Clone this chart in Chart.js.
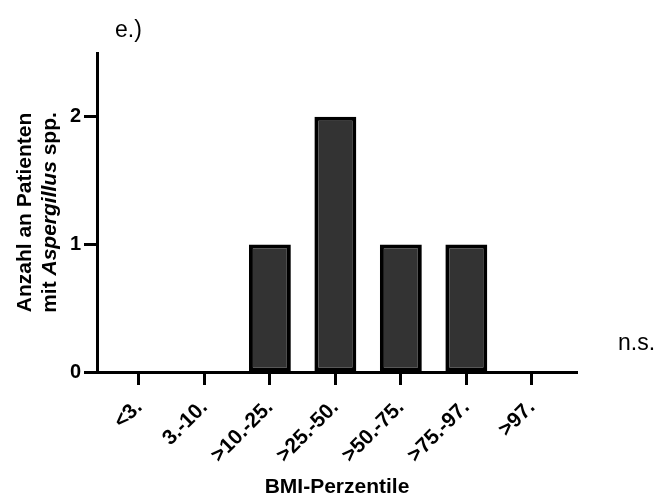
<!DOCTYPE html>
<html>
<head>
<meta charset="utf-8">
<script src="https://cdn.jsdelivr.net/npm/chart.js@4"></script>
<style>
  html, body { margin: 0; padding: 0; background: #fff; }
  #wrap { width: 658px; height: 500px; }
</style>
</head>
<body>
<div id="wrap"><canvas id="chart" width="658" height="500"></canvas></div>
<script>
  const categories = ['<3.', '3.-10.', '>10.-25.', '>25.-50.', '>50.-75.', '>75.-97.', '>97.'];
  const patients = [0, 0, 1, 2, 1, 1, 0];
  const yTicks = [0, 1, 2];

  const FONT = '"Liberation Sans", Arial, sans-serif';

  // y-Achsentitel mit kursivem Gattungsnamen, dazu Panelbuchstabe und n.s.
  const extraText = {
    id: 'extraText',
    afterDraw(chart) {
      const ctx = chart.ctx;
      const area = chart.chartArea;
      ctx.save();
      ctx.fillStyle = '#000';
      ctx.textBaseline = 'alphabetic';

      ctx.font = '23px ' + FONT;
      ctx.textAlign = 'left';
      ctx.fillText('e.)', 115, 37);
      ctx.fillText('n.s.', 618, 350);

      const midY = (area.top + area.bottom) / 2;
      ctx.translate(0, midY);
      ctx.rotate(-Math.PI / 2);
      const lines = [
        [['Anzahl an Patienten', 'bold']],
        [['mit ', 'bold'], ['Aspergillus', 'italic bold'], [' spp.', 'bold']]
      ];
      const baselines = [31, 56];
      lines.forEach((parts, i) => {
        let total = 0;
        parts.forEach(p => { ctx.font = p[1] + ' 21px ' + FONT; total += ctx.measureText(p[0]).width; });
        let x = -total / 2;
        parts.forEach(p => {
          ctx.font = p[1] + ' 21px ' + FONT;
          ctx.fillText(p[0], x, baselines[i]);
          x += ctx.measureText(p[0]).width;
        });
      });
      ctx.restore();
    }
  };

  new Chart(document.getElementById('chart'), {
    type: 'bar',
    data: {
      datasets: [{
        data: patients.map((v, i) => ({ x: i, y: v })),
        backgroundColor: '#333333',
        borderColor: '#000000',
        borderWidth: 4,
        borderSkipped: false,
        barPercentage: 0.64,
        categoryPercentage: 1
      }]
    },
    options: {
      responsive: false,
      animation: false,
      layout: { padding: { top: 53, right: 81, left: 0, bottom: 0 } },
      plugins: { legend: { display: false }, tooltip: { enabled: false } },
      scales: {
        x: {
          type: 'linear',
          offset: false,
          min: -0.64,
          max: 6.69,
          afterBuildTicks: axis => { axis.ticks = axis.ticks.filter(t => Number.isInteger(t.value)); },
          afterFit: axis => { axis.height = 128; },
          border: { display: true, color: '#000', width: 3 },
          grid: { offset: false, drawOnChartArea: false, tickLength: 13, tickWidth: 3, tickColor: '#000' },
          ticks: {
            stepSize: 1,
            autoSkip: false,
            maxRotation: 45,
            minRotation: 45,
            padding: 10,
            color: '#000',
            font: { family: FONT, size: 21, weight: 'bold' },
            callback: v => categories[v]
          },
          title: {
            display: true,
            text: 'BMI-Perzentile',
            color: '#000',
            padding: { top: 0, bottom: 0 },
            font: { family: FONT, size: 21, weight: 'bold' }
          }
        },
        y: {
          min: 0,
          max: 2.5,
          afterBuildTicks: axis => { axis.ticks = yTicks.map(v => ({ value: v })); },
          afterFit: axis => { axis.width = 97; },
          border: { display: true, color: '#000', width: 3 },
          grid: { drawOnChartArea: false, tickLength: 13, tickWidth: 3, tickColor: '#000' },
          ticks: {
            padding: 3,
            color: '#000',
            font: { family: FONT, size: 20, weight: 'bold' }
          }
        }
      }
    },
    plugins: [extraText]
  });
</script>
</body>
</html>
